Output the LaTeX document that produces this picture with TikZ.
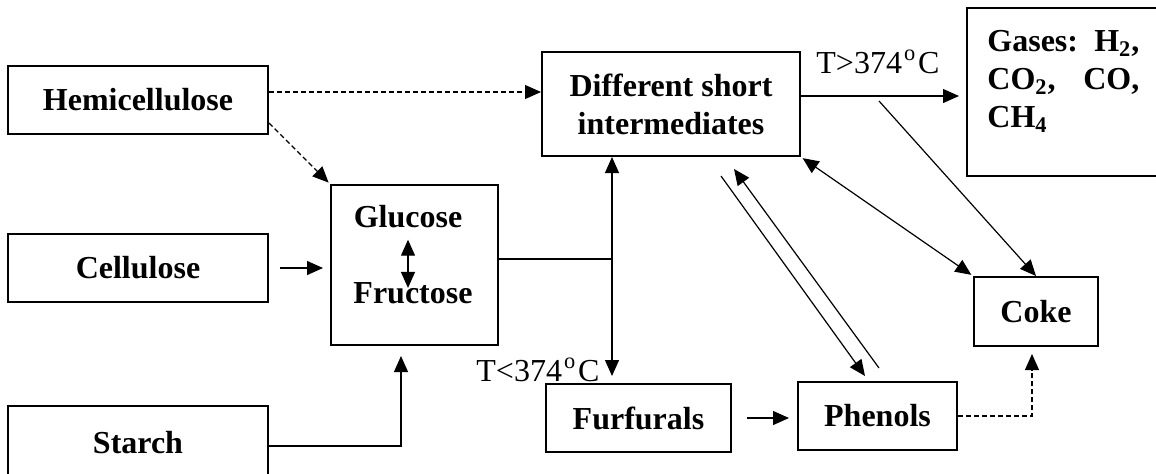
\documentclass[tikz,border=0pt]{standalone}
\usepackage{fontspec}
\setmainfont{Liberation Serif}
\usetikzlibrary{arrows.meta,calc}
\newcommand{\boxfont}{\fontsize{16}{19}\selectfont\bfseries}
\newcommand{\lblfont}{\fontsize{16}{19}\selectfont}

\begin{document}
\begin{tikzpicture}[x=0.5pt,y=-0.5pt,>={Triangle[length=8pt,width=7pt]},
  box/.style={draw,line width=1pt,inner sep=0pt,align=center,font=\boxfont},
  lbl/.style={inner sep=0pt,font=\lblfont},
  arr/.style={->,line width=0.6pt},
  dbl/.style={<->,line width=0.6pt},
  dsh/.style={->,line width=0.6pt,dash pattern=on 2.5pt off 1.5pt}]
\useasboundingbox (0,0) rectangle (1156,473);
\clip (0,0) rectangle (1156,473);
% ---- feedstocks ----
\node[box,minimum width=130pt,minimum height=34pt] (hemi) at (138,100) {Hemicellulose};
\node[box,minimum width=130pt,minimum height=34pt] (cell) at (138,268) {Cellulose};
\node[box,minimum width=130pt,minimum height=37pt] (starch) at (138,443) {Starch};
% ---- sugars ----
\node[box,minimum width=83.5pt,minimum height=80pt] (gluc) at (414.5,265) {};
\node[lbl,font=\boxfont] (glu) at (408,217) {Glucose};
\node[lbl,font=\boxfont] (fru) at (413,293) {Fructose};
% ---- intermediates and products ----
\node[box,minimum width=129pt,minimum height=52pt] (diff) at (671,104) {Different short\\intermediates};
\node[box,minimum width=97pt,minimum height=84pt] (gases) at (1064,92) {};
\node[lbl,font=\boxfont,anchor=north west,text width=76pt,align=left] (gastxt) at ($(gases.north west)+(21,23)$) {Gases:\hfill H\textsubscript{2},\\CO\textsubscript{2},\hfill CO,\\CH\textsubscript{4}};
\node[box,minimum width=62pt,minimum height=34.5pt] (coke) at (1036,311.5) {Coke};
\node[box,minimum width=92.5pt,minimum height=34pt] (furf) at (638.5,418) {Furfurals};
\node[box,minimum width=79.5pt,minimum height=34pt] (phen) at (877.5,416) {Phenols};
% ---- temperature labels ----
\node[lbl] (thot) at (878,62) {T>374\kern1pt\textsuperscript{o}\kern1pt C};
\node[lbl] (tcold) at (538,370) {T<374\kern1pt\textsuperscript{o}\kern1pt C};
% ---- feeds into sugars / intermediates ----
\draw[dsh] ($(hemi.east)+(0,-8)$) -- ($(diff.west)+(0,-12)$);
\draw[dsh,shorten >=1pt] ($(hemi.south east)+(0,-12)$) -- (gluc.north west);
\draw[arr,shorten <=5.5pt,shorten >=3.5pt] (cell.east) -- (gluc.west |- cell.east);
\draw[arr,shorten >=5pt] ($(starch.east)+(0,3)$) -| ($(gluc.south)+(-13.5,0)$);
\draw[dbl,shorten <=5.5pt,shorten >=-3pt] (glu.south) -- (glu.south |- fru.north);
% ---- sugars split up / down ----
\coordinate (split) at (612,259);
\draw[line width=0.6pt] (gluc.east |- split) -- (split);
\draw[arr] (split) -- (split |- diff.south);
\draw[arr,shorten >=3.5pt] (split) -- (split |- furf.north);
% ---- high temperature route ----
\draw[arr,shorten >=3.5pt] ($(diff.east)+(0,-8)$) -- ($(gases.west)+(0,4)$);
\coordinate (hot) at (879,101);
\draw[arr] (hot) -- (coke.north);
\draw[dbl,shorten <=1pt,shorten >=1pt] (diff.south east) -- (coke.north west);
% ---- phenols ----
\draw[arr] ($(diff.south)+(50,19)$) -- ($(phen.north)+(-12.5,-5)$);
\draw[arr] ($(phen.north)+(1.5,-13)$) -- ($(diff.south)+(63,12)$);
\draw[arr,shorten <=7.5pt,shorten >=4pt] (furf.east) -- (furf.east -| phen.west);
\draw[dsh,shorten >=3.5pt] (phen.east) -| ($(coke.south)+(-4,0)$);
\end{tikzpicture}
\end{document}
